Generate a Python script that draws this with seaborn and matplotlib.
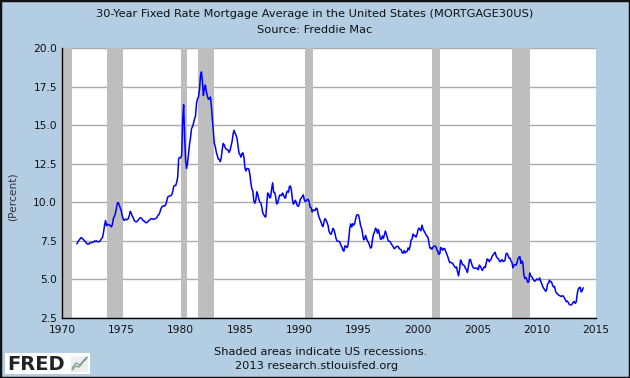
import numpy as np
import pandas as pd
import matplotlib
matplotlib.use("Agg")
import matplotlib.pyplot as plt
import seaborn as sns
from matplotlib.patches import Rectangle
from matplotlib.lines import Line2D

# ---------------- data ----------------
first_month = "1971-04"
rates = [
    # 1971 (Apr-Dec)
    7.31, 7.43, 7.53, 7.60, 7.70, 7.69, 7.63, 7.55, 7.48,
    # 1972
    7.44, 7.32, 7.29, 7.29, 7.37, 7.37, 7.40, 7.40, 7.43, 7.50, 7.45, 7.50,
    # 1973
    7.44, 7.44, 7.46, 7.54, 7.65, 7.73, 8.05, 8.50, 8.82, 8.48, 8.58, 8.54,
    # 1974
    8.54, 8.46, 8.41, 8.58, 8.97, 9.09, 9.28, 9.59, 9.96, 9.98, 9.79, 9.62,
    # 1975
    9.43, 9.10, 8.89, 8.82, 8.91, 8.89, 8.87, 8.94, 9.13, 9.41, 9.30, 9.10,
    # 1976
    9.02, 8.81, 8.76, 8.73, 8.76, 8.85, 8.93, 9.00, 8.98, 8.92, 8.81, 8.79,
    # 1977
    8.72, 8.67, 8.69, 8.75, 8.83, 8.86, 8.94, 8.94, 8.90, 8.92, 8.92, 8.96,
    # 1978
    9.02, 9.15, 9.20, 9.36, 9.57, 9.71, 9.74, 9.78, 9.76, 9.86, 10.11, 10.35,
    # 1979
    10.39, 10.41, 10.43, 10.50, 10.69, 11.04, 11.09, 11.09, 11.30, 11.64, 12.83, 12.90,
    # 1980
    12.88, 13.04, 15.28, 16.32, 14.26, 12.71, 12.19, 12.56, 13.20, 13.79, 14.21, 14.79,
    # 1981
    14.90, 15.13, 15.40, 15.58, 16.40, 16.70, 16.83, 17.29, 18.16, 18.45, 17.83, 16.92,
    # 1982
    17.40, 17.60, 17.16, 16.89, 16.68, 16.70, 16.82, 16.27, 15.43, 14.61, 13.83, 13.62,
    # 1983
    13.25, 13.04, 12.80, 12.78, 12.63, 12.87, 13.42, 13.81, 13.73, 13.54, 13.44, 13.42,
    # 1984
    13.37, 13.23, 13.39, 13.65, 13.94, 14.42, 14.67, 14.47, 14.35, 14.13, 13.64, 13.18,
    # 1985
    13.08, 12.92, 13.17, 13.20, 12.91, 12.22, 12.03, 12.19, 12.19, 12.14, 11.78, 11.26,
    # 1986
    10.88, 10.71, 10.08, 9.94, 10.14, 10.68, 10.51, 10.20, 10.01, 9.98, 9.70, 9.32,
    # 1987
    9.20, 9.08, 9.04, 9.83, 10.60, 10.54, 10.28, 10.33, 10.89, 11.26, 10.65, 10.64,
    # 1988
    10.38, 9.89, 9.93, 10.20, 10.46, 10.46, 10.43, 10.60, 10.48, 10.30, 10.27, 10.61,
    # 1989
    10.73, 10.65, 11.03, 11.05, 10.77, 10.20, 9.88, 9.99, 10.13, 9.95, 9.77, 9.74,
    # 1990
    9.90, 10.20, 10.27, 10.37, 10.48, 10.16, 10.04, 10.10, 10.18, 10.18, 10.01, 9.67,
    # 1991
    9.64, 9.37, 9.50, 9.49, 9.47, 9.62, 9.58, 9.24, 9.01, 8.86, 8.71, 8.50,
    # 1992
    8.43, 8.76, 8.94, 8.85, 8.67, 8.51, 8.13, 7.98, 7.92, 8.09, 8.31, 8.22,
    # 1993
    7.99, 7.68, 7.50, 7.47, 7.47, 7.42, 7.21, 7.11, 6.91, 6.83, 7.16, 7.17,
    # 1994
    7.06, 7.15, 7.68, 8.32, 8.60, 8.40, 8.61, 8.51, 8.64, 8.93, 9.17, 9.20,
    # 1995
    9.15, 8.83, 8.46, 8.32, 7.96, 7.57, 7.61, 7.86, 7.64, 7.48, 7.38, 7.20,
    # 1996
    7.03, 7.08, 7.62, 7.93, 8.07, 8.32, 8.25, 8.00, 8.23, 7.92, 7.62, 7.60,
    # 1997
    7.82, 7.65, 7.90, 8.14, 7.94, 7.69, 7.50, 7.48, 7.43, 7.29, 7.21, 7.10,
    # 1998
    6.99, 7.04, 7.13, 7.14, 7.14, 7.00, 6.95, 6.92, 6.72, 6.71, 6.87, 6.72,
    # 1999
    6.79, 6.81, 7.04, 6.92, 7.15, 7.55, 7.63, 7.94, 7.82, 7.85, 7.74, 7.91,
    # 2000
    8.21, 8.33, 8.24, 8.15, 8.52, 8.29, 8.15, 8.03, 7.91, 7.80, 7.75, 7.38,
    # 2001
    7.03, 7.05, 6.95, 7.08, 7.15, 7.16, 7.13, 6.95, 6.82, 6.62, 6.66, 7.07,
    # 2002
    7.00, 6.89, 7.01, 6.99, 6.81, 6.65, 6.49, 6.29, 6.09, 6.11, 6.07, 6.05,
    # 2003
    5.92, 5.84, 5.75, 5.81, 5.48, 5.23, 5.63, 6.26, 6.15, 5.95, 5.93, 5.88,
    # 2004
    5.71, 5.64, 5.45, 5.83, 6.27, 6.29, 6.06, 5.87, 5.75, 5.72, 5.73, 5.75,
    # 2005
    5.71, 5.63, 5.93, 5.86, 5.72, 5.58, 5.70, 5.82, 5.77, 6.07, 6.33, 6.27,
    # 2006
    6.15, 6.25, 6.32, 6.51, 6.60, 6.68, 6.76, 6.52, 6.40, 6.36, 6.24, 6.14,
    # 2007
    6.22, 6.29, 6.16, 6.18, 6.26, 6.66, 6.70, 6.57, 6.38, 6.38, 6.21, 6.10,
    # 2008
    5.76, 5.92, 5.97, 5.92, 6.04, 6.32, 6.43, 6.48, 6.04, 6.20, 6.09, 5.33,
    # 2009
    5.06, 5.13, 5.00, 4.81, 4.86, 5.42, 5.22, 5.19, 5.06, 4.95, 4.88, 4.93,
    # 2010
    5.03, 4.99, 4.97, 5.10, 4.89, 4.74, 4.56, 4.43, 4.35, 4.23, 4.30, 4.71,
    # 2011
    4.76, 4.95, 4.84, 4.84, 4.64, 4.51, 4.55, 4.27, 4.11, 4.07, 3.99, 3.96,
    # 2012
    3.92, 3.89, 3.95, 3.91, 3.80, 3.68, 3.55, 3.60, 3.50, 3.38, 3.35, 3.35,
    # 2013
    3.41, 3.53, 3.57, 3.45, 3.54, 4.07, 4.37, 4.46, 4.49, 4.19, 4.26, 4.46,
]
recession_starts = ["1969-12", "1973-11", "1980-01", "1981-07", "1990-07", "2001-03", "2007-12"]
recession_ends = ["1970-11", "1975-03", "1980-07", "1982-11", "1991-03", "2001-11", "2009-06"]
year_ticks = [1970, 1975, 1980, 1985, 1990, 1995, 2000, 2005, 2010, 2015]
pct_ticks = [2.5, 5.0, 7.5, 10.0, 12.5, 15.0, 17.5, 20.0]

title_lines = ["30-Year Fixed Rate Mortgage Average in the United States (MORTGAGE30US)",
               "Source: Freddie Mac"]
footer_lines = ["Shaded areas indicate US recessions.", "2013 research.stlouisfed.org"]


def dec_year(s):
    t = pd.Timestamp(s)
    return t.year + (t.month - 1) / 12.0


dates = pd.date_range(first_month, periods=len(rates), freq="MS")
df = pd.DataFrame({"year": dates.year + (dates.month - 1) / 12.0, "rate": rates})

# ---------------- style ----------------
sns.set_theme(style="white")
plt.rcParams["font.family"] = ["DejaVu Sans"]

BG = "#B3CDE3"
TXT = "#111111"
W, H = 630, 378
fig = plt.figure(figsize=(6.3, 3.78), dpi=100, facecolor=BG)
ax = fig.add_axes([62 / W, 1 - 318 / H, 534 / W, 270 / H])
ax.set_facecolor("white")

for s, e in zip(recession_starts, recession_ends):
    ax.axvspan(dec_year(s), dec_year(e), color="#BEBEBE", lw=0, zorder=1)

sns.lineplot(data=df, x="year", y="rate", color="#0000FF", lw=1.1, ax=ax, zorder=3)

ax.set_xlim(1970, 2015)
ax.set_ylim(2.5, 20.0)
ax.set_xticks(year_ticks)
ax.set_xticklabels([str(y) for y in year_ticks])
ax.set_yticks(pct_ticks)
ax.set_yticklabels([f"{v:.1f}" for v in pct_ticks])
ax.set_axisbelow(True)
ax.yaxis.grid(True, color="#AAAAAA", lw=1)
ax.xaxis.grid(False)

for side in ["top", "right"]:
    ax.spines[side].set_visible(False)
for side in ["left", "bottom"]:
    ax.spines[side].set_visible(True)
    ax.spines[side].set_color("black")
    ax.spines[side].set_linewidth(1)

ax.tick_params(axis="both", direction="in", length=5, width=1, color="black",
               labelsize=7.7, labelcolor=TXT)
ax.tick_params(axis="y", pad=3.5)
ax.tick_params(axis="x", pad=5)
ax.set_xlabel("")
ax.set_ylabel("(Percent)", fontsize=7.7, color="#333333")
ax.yaxis.set_label_coords(-44 / 534, (318 - 197) / 270)

fs = 8.2
fig.text(0.5, 1 - 14 / H, title_lines[0], ha="center", va="center", fontsize=fs, color=TXT)
fig.text(0.5, 1 - 30 / H, title_lines[1], ha="center", va="center", fontsize=fs, color=TXT)
fig.text(321 / W, 1 - 352 / H, footer_lines[0], ha="center", va="center", fontsize=fs, color=TXT)
fig.text(317 / W, 1 - 366 / H, footer_lines[1], ha="center", va="center", fontsize=fs, color=TXT)

# FRED logo
fig.add_artist(Rectangle((5 / W, 1 - 374 / H), 85 / W, 21 / H, transform=fig.transFigure,
                         facecolor="white", edgecolor="none"))
fig.text(7 / W, 1 - 364 / H, "FRED", ha="left", va="center", fontsize=14,
         fontweight="bold", color="#222222")
fig.add_artist(Rectangle((71 / W, 1 - 372 / H), 17 / W, 16 / H, transform=fig.transFigure,
                         facecolor="#EEEEEE", edgecolor="none"))
fig.add_artist(Line2D([72 / W, 76 / W, 79 / W, 83 / W, 87 / W],
                      [1 - 370 / H, 1 - 366 / H, 1 - 367 / H, 1 - 362 / H, 1 - 358 / H],
                      transform=fig.transFigure, color="#7DB24A", lw=1))
fig.add_artist(Line2D([72 / W, 76 / W, 80 / W, 84 / W, 87 / W],
                      [1 - 368 / H, 1 - 363 / H, 1 - 365 / H, 1 - 360 / H, 1 - 357 / H],
                      transform=fig.transFigure, color="#6A8CC0", lw=0.8))

# figure border
fig.add_artist(Rectangle((0, 0), 1, 1, transform=fig.transFigure, fill=False,
                         edgecolor="#111111", lw=2.5))

fig.savefig("out.png", dpi=100, facecolor=BG)
